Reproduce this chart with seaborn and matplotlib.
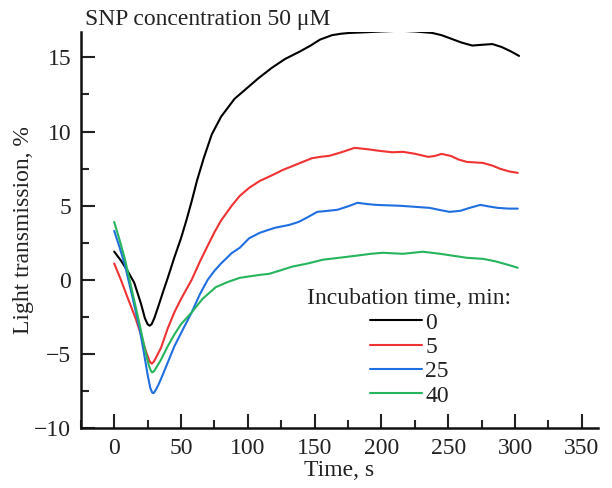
import numpy as np
import pandas as pd
import matplotlib
matplotlib.use("Agg")
import matplotlib.pyplot as plt
import seaborn as sns
from matplotlib.ticker import MultipleLocator

# Curvas (tempo em s, transmissão em %)
t_0 = [0, 5, 10, 15, 20, 23, 25, 26.5, 28, 30, 33, 37, 40, 45, 50, 54, 58, 62, 67, 73,
       80, 90, 99, 108, 118, 128, 139, 147, 154, 163, 170, 176, 189, 200, 214, 225, 238,
       245, 251, 260, 268, 275, 283, 290, 297, 303]
y_0 = [1.9, 1.3, 0.6, -0.2, -1.6, -2.6, -3.0, -3.1, -3.0, -2.6, -1.8, -0.7, 0.1, 1.5,
       2.8, 4.0, 5.3, 6.7, 8.2, 9.8, 11.0, 12.2, 12.9, 13.6, 14.3, 14.9, 15.4, 15.8,
       16.2, 16.5, 16.6, 16.65, 16.7, 16.75, 16.8, 16.75, 16.65, 16.5, 16.3, 16.0, 15.8,
       15.85, 15.9, 15.7, 15.4, 15.1]

t_5 = [0, 5, 10, 16, 20, 24, 26.5, 28, 29.5, 31, 35, 40, 45, 50, 58, 64, 70, 75, 80, 88,
       94, 101, 109, 117, 126, 137, 148, 155, 161, 170, 180, 190, 199, 208, 216, 225, 235,
       240, 245, 252, 258, 264, 276, 283, 289, 296, 302]
y_5 = [1.1, 0.0, -1.2, -2.6, -3.7, -4.9, -5.5, -5.66, -5.55, -5.3, -4.6, -3.3, -2.2,
       -1.3, 0.0, 1.2, 2.3, 3.2, 4.0, 5.0, 5.66, 6.2, 6.67, 7.0, 7.4, 7.8, 8.2, 8.3, 8.36,
       8.6, 8.9, 8.8, 8.69, 8.6, 8.63, 8.5, 8.29, 8.35, 8.49, 8.35, 8.1, 7.95, 7.88, 7.7,
       7.48, 7.3, 7.21]

t_25 = [0, 4, 8, 14, 19, 22, 25, 27, 28.5, 29.5, 31, 33, 35, 40, 45, 50, 58, 64, 70, 75,
        80, 88, 94, 101, 109, 120, 131, 138, 144, 152, 160, 167, 175, 182, 190, 196, 214,
        225, 236, 244, 251, 259, 266, 274, 280, 287, 295, 302]
y_25 = [3.3, 2.2, 1.0, -1.3, -3.3, -4.8, -6.4, -7.3, -7.62, -7.65, -7.45, -7.1, -6.7,
        -5.6, -4.5, -3.6, -2.2, -1.0, 0.0, 0.6, 1.1, 1.8, 2.16, 2.8, 3.17, 3.5, 3.7, 3.9,
        4.18, 4.58, 4.65, 4.72, 4.95, 5.19, 5.1, 5.05, 4.99, 4.92, 4.85, 4.7, 4.58, 4.65,
        4.85, 5.05, 4.95, 4.85, 4.8, 4.8]

t_40 = [0, 4, 8, 14, 19, 23, 26, 27.5, 28.5, 30, 32, 35, 40, 45, 50, 58, 66, 76, 85, 94,
        109, 116, 125, 133, 145, 156, 170, 181, 192, 201, 216, 231, 244, 255, 264, 276,
        285, 295, 302]
y_40 = [3.9, 2.7, 1.4, -1.0, -3.0, -4.7, -5.8, -6.15, -6.25, -6.15, -5.85, -5.4, -4.5,
        -3.7, -3.0, -2.2, -1.3, -0.5, -0.15, 0.13, 0.33, 0.4, 0.65, 0.88, 1.1, 1.35, 1.5,
        1.62, 1.75, 1.82, 1.75, 1.89, 1.75, 1.6, 1.48, 1.41, 1.25, 1.0, 0.81]

labels = ["0", "5", "25", "40"]
colors = ["#000000", "#f03232", "#1f6fe0", "#26b45c"]

sns.set_theme(style="ticks")
plt.rcParams["font.family"] = ["Liberation Serif", "DejaVu Serif"]
plt.rcParams["font.size"] = 17

fig = plt.figure(figsize=(6.12, 4.88), dpi=100)
ax = fig.add_axes([0.132, 0.123, 0.845, 0.811])

series = [(t_0, y_0), (t_5, y_5), (t_25, y_25), (t_40, y_40)]
for (tt, yy), lab, col in zip(series, labels, colors):
    df = pd.DataFrame({"t": tt, "y": yy})
    sns.lineplot(data=df, x="t", y="y", ax=ax, color=col, lw=1.5, label=lab,
                 estimator=None, sort=False)

ax.set_xlim(-25, 362)
ax.set_ylim(-10, 16.7)
ax.xaxis.set_major_locator(MultipleLocator(50))
ax.xaxis.set_minor_locator(MultipleLocator(25))
ax.yaxis.set_minor_locator(MultipleLocator(2.5))
ax.set_yticks([-10, -5, 0, 5, 10, 15])
ax.set_yticklabels(["\u221210", "\u22125", "0", "5", "10", "15"])

ax.tick_params(which="major", direction="in", length=10, width=1.5, labelsize=17,
               colors="#222222", pad=7)
ax.tick_params(which="minor", direction="in", length=6, width=1.5)
for s in ["top", "right"]:
    ax.spines[s].set_visible(False)
for s in ["left", "bottom"]:
    ax.spines[s].set_linewidth(1.8)
    ax.spines[s].set_color("#111111")

ax.set_xlabel("Time, s", fontsize=17, color="#222222")
ax.set_ylabel("Light transmission, %", fontsize=17, color="#222222")
ax.yaxis.set_label_coords(-0.09, 0.5)
ax.xaxis.set_label_coords(0.5, -0.082)

ax.text(0.008, 1.005, "SNP concentration 50 \u03bcM", transform=ax.transAxes,
        ha="left", va="bottom", fontsize=17, color="#222222")

leg = ax.legend(title="Incubation time, min:", loc="upper center",
                bbox_to_anchor=(0.635, 0.395), frameon=False, fontsize=17,
                title_fontsize=17, handlelength=2.2, handletextpad=0.15,
                labelspacing=0.12, borderpad=0.2)
for txt in leg.get_texts():
    txt.set_color("#222222")
leg.get_title().set_color("#222222")

fig.savefig("out.png", dpi=100)
